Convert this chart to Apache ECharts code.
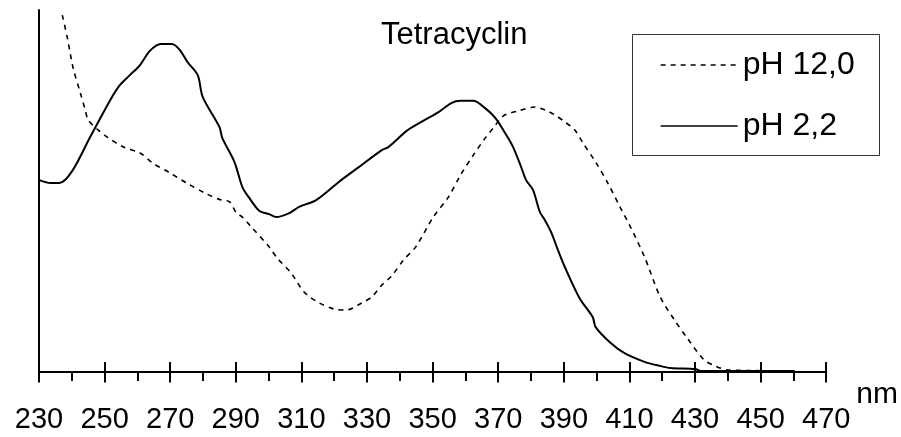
<!DOCTYPE html>
<html>
<head>
<meta charset="utf-8">
<script src="https://cdn.jsdelivr.net/npm/echarts@6/dist/echarts.min.js"></script>
<style>
  html, body { margin: 0; padding: 0; background: #fff; }
  #chart { width: 901px; height: 437px; }
</style>
</head>
<body>
<div id="chart"></div>
<script>
// Wavelengths (nm) and relative absorbance
const ph12X = [237.1, 238.6, 240.4, 242.6, 244.1, 245.0, 248.0, 250.8, 255.6, 260.8, 264.7, 269.9, 275.0, 281.1, 285.6, 288.1, 290.2, 292.0, 294.7, 300.2, 302.6, 306.9, 310.8, 315.4, 319.9, 323.6, 328.4, 331.4, 334.5, 337.5, 341.1, 344.8, 350.2, 354.8, 358.5, 362.4, 366.0, 368.5, 371.5, 376.0, 381.2, 384.2, 387.3, 390.3, 393.3, 395.8, 399.7, 403.4, 407.3, 410.3, 414.6, 419.4, 423.7, 427.6, 432.8, 436.1, 439.8, 460.4];
const ph12Y = [0.986, 0.925, 0.840, 0.771, 0.724, 0.696, 0.669, 0.649, 0.622, 0.605, 0.577, 0.550, 0.522, 0.492, 0.475, 0.470, 0.439, 0.428, 0.401, 0.345, 0.315, 0.273, 0.221, 0.191, 0.174, 0.171, 0.191, 0.207, 0.240, 0.265, 0.309, 0.345, 0.428, 0.483, 0.544, 0.599, 0.646, 0.674, 0.707, 0.721, 0.732, 0.724, 0.710, 0.691, 0.669, 0.633, 0.580, 0.522, 0.453, 0.401, 0.318, 0.207, 0.144, 0.094, 0.033, 0.017, 0.006, 0.003];

const ph22X = [230.1, 233.5, 236.2, 240.1, 245.6, 251.7, 254.7, 257.7, 260.8, 263.8, 267.1, 270.5, 272.9, 275.3, 278.4, 279.9, 285.0, 285.9, 289.6, 292.0, 294.1, 297.2, 300.2, 302.3, 306.3, 309.3, 314.5, 321.4, 327.5, 334.5, 336.6, 342.1, 346.6, 351.8, 355.7, 358.5, 362.4, 366.0, 369.1, 372.1, 374.5, 377.0, 378.5, 380.6, 382.7, 384.2, 386.1, 388.2, 390.3, 394.8, 398.8, 399.7, 404.3, 408.5, 414.6, 419.2, 422.5, 430.1, 431.6, 460.4];
const ph22Y = [0.530, 0.522, 0.522, 0.555, 0.649, 0.751, 0.793, 0.820, 0.848, 0.887, 0.906, 0.906, 0.890, 0.856, 0.820, 0.760, 0.677, 0.646, 0.580, 0.511, 0.481, 0.445, 0.436, 0.428, 0.439, 0.456, 0.475, 0.525, 0.566, 0.613, 0.622, 0.666, 0.691, 0.718, 0.743, 0.749, 0.749, 0.729, 0.702, 0.660, 0.622, 0.566, 0.530, 0.503, 0.442, 0.420, 0.387, 0.337, 0.290, 0.204, 0.152, 0.124, 0.080, 0.052, 0.028, 0.017, 0.011, 0.008, 0.003, 0.003];

const majorTicks = [230, 250, 270, 290, 310, 330, 350, 370, 390, 410, 430, 450, 470];
const minorTicks = [240, 260, 280, 300, 320, 340, 360, 380, 400, 420, 440, 460];

const seriesNames = ['pH 12,0', 'pH 2,2'];
const titleText = 'Tetracyclin';
const axisName = 'nm';

const zip = (xs, ys) => xs.map((x, i) => [x, ys[i]]);
const FONT = 'Liberation Sans, Arial, sans-serif';

const chart = echarts.init(document.getElementById('chart'), null, { renderer: 'canvas' });

const baseX = {
  type: 'value', min: 230, max: 470, gridIndex: 0,
  splitLine: { show: false }
};

chart.setOption({
  animation: false,
  backgroundColor: '#fff',
  title: {
    text: titleText, left: 381, top: 20, padding: 0,
    textStyle: { fontFamily: FONT, fontSize: 31, fontWeight: 'normal', color: '#000' }
  },
  graphic: [{
    type: 'rect', left: 632, top: 34, z: 0,
    shape: { width: 247, height: 121 },
    style: { fill: '#fff', stroke: '#333', lineWidth: 1 }
  }],
  legend: {
    orient: 'vertical', left: 660, top: 49, padding: 0,
    itemWidth: 77, itemHeight: 14, itemGap: 29,
    data: seriesNames,
    itemStyle: { opacity: 0 },
    lineStyle: { width: 1.3 },
    textStyle: { fontFamily: FONT, fontSize: 32, color: '#000', lineHeight: 32 }
  },
  grid: { left: 39, right: 71, top: 10, bottom: 65 },
  xAxis: [
    Object.assign({}, baseX, {
      position: 'bottom',
      name: axisName, nameLocation: 'end', nameGap: 25,
      nameTextStyle: { fontFamily: FONT, fontSize: 30, color: '#000', verticalAlign: 'top', padding: [8, 0, 0, 0] },
      axisLine: { show: true, lineStyle: { color: '#000', width: 2 } },
      axisTick: { show: true, inside: false, length: 10.5, customValues: majorTicks, lineStyle: { color: '#000', width: 2 } },
      axisLabel: { show: true, customValues: majorTicks, margin: 33, fontFamily: FONT, fontSize: 29, color: '#000' }
    }),
    Object.assign({}, baseX, {
      position: 'bottom', offset: 0,
      axisLine: { show: false },
      axisTick: { show: true, inside: true, length: 10, customValues: majorTicks, lineStyle: { color: '#000', width: 2 } },
      axisLabel: { show: false }
    }),
    Object.assign({}, baseX, {
      position: 'bottom', offset: 0,
      axisLine: { show: false },
      axisTick: { show: true, inside: false, length: 9, customValues: minorTicks, lineStyle: { color: '#000', width: 2 } },
      axisLabel: { show: false }
    })
  ],
  yAxis: {
    type: 'value', min: 0, max: 1,
    axisLine: { show: true, lineStyle: { color: '#000', width: 2 } },
    axisTick: { show: false },
    axisLabel: { show: false },
    splitLine: { show: false }
  },
  series: [
    {
      name: seriesNames[0], type: 'line', xAxisIndex: 0, symbol: 'none', smooth: 0.3,
      data: zip(ph12X, ph12Y),
      lineStyle: { color: '#000', width: 1.6, type: [5, 5] },
      itemStyle: { color: '#000' }
    },
    {
      name: seriesNames[1], type: 'line', xAxisIndex: 0, symbol: 'none', smooth: 0.3,
      data: zip(ph22X, ph22Y),
      lineStyle: { color: '#000', width: 2, type: 'solid' },
      itemStyle: { color: '#000' }
    }
  ]
});
</script>
</body>
</html>
